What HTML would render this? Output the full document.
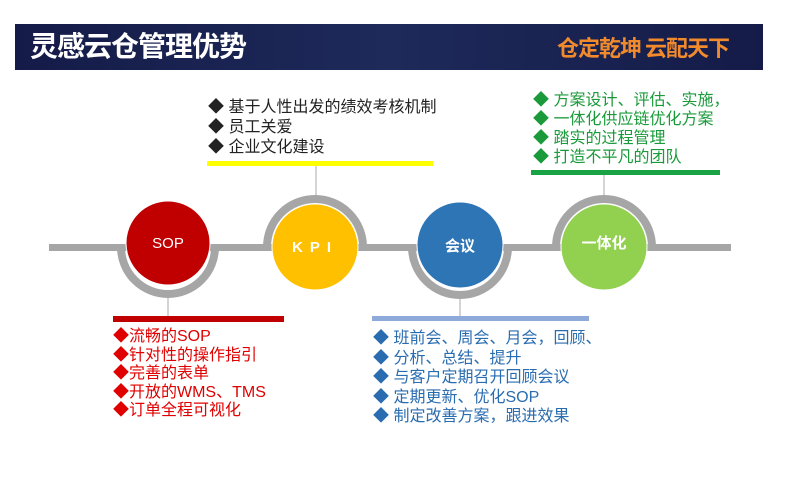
<!DOCTYPE html>
<html><head><meta charset="utf-8"><style>
body{margin:0;width:790px;height:482px;background:#fff;position:relative;overflow:hidden;font-family:"Liberation Sans","Noto Sans CJK SC",sans-serif}
.t{position:absolute;white-space:nowrap;font-size:16px;line-height:19px}
</style></head><body>
<div style="position:absolute;left:15px;top:24px;width:748px;height:46px;background:linear-gradient(90deg,#151b48,#1d2a5a 50%,#151b48)"></div>
<div class="t" style="left:30px;top:29px;font-size:28px;line-height:32px;color:#fff;font-weight:bold;font-family:'Noto Sans CJK SC',sans-serif;letter-spacing:-1px">灵感云仓管理优势</div>
<div class="t" style="left:557px;top:34px;font-size:22px;line-height:26px;color:#f08a2c;font-weight:bold;font-family:'Noto Sans CJK SC',sans-serif;letter-spacing:-1px">仓定乾坤 云配天下</div>
<svg width="790" height="482" style="position:absolute;left:0;top:0">
<rect x="49" y="244" width="682" height="7" fill="#a6a6a6"/>
<line x1="316" y1="165" x2="316" y2="200" stroke="#aaa" stroke-width="1"/>
<line x1="604" y1="174" x2="604" y2="200" stroke="#aaa" stroke-width="1"/>
<line x1="168" y1="290" x2="168" y2="316" stroke="#aaa" stroke-width="1"/>
<line x1="460" y1="294" x2="460" y2="318" stroke="#aaa" stroke-width="1"/>
<path d="M121 247 A47 47 0 0 0 215 247" fill="none" stroke="#a6a6a6" stroke-width="8"/>
<path d="M267 247 A48 48 0 0 1 363 247" fill="none" stroke="#a6a6a6" stroke-width="8"/>
<path d="M412 247 A48 48 0 0 0 508 247" fill="none" stroke="#a6a6a6" stroke-width="8"/>
<path d="M556 247 A48 48 0 0 1 652 247" fill="none" stroke="#a6a6a6" stroke-width="8"/>
<circle cx="168" cy="243" r="42" fill="#c00000" stroke="#fff" stroke-width="1"/>
<circle cx="315" cy="247" r="43" fill="#ffc000" stroke="#fff" stroke-width="1"/>
<circle cx="460" cy="245" r="43" fill="#2e75b6" stroke="#fff" stroke-width="1"/>
<circle cx="604" cy="247" r="43" fill="#92d050" stroke="#fff" stroke-width="1"/>
<text x="168" y="248" fill="#fff" font-size="15" text-anchor="middle" font-family="Liberation Sans">SOP</text>
<text x="315" y="252" fill="#fff" font-size="15" font-weight="bold" text-anchor="middle" letter-spacing="7" font-family="Liberation Sans">KPI</text>
<text x="460" y="251" fill="#fff" font-size="15" font-weight="bold" text-anchor="middle" font-family="Noto Sans CJK SC">会议</text>
<text x="604" y="248" fill="#fff" font-size="15" font-weight="bold" text-anchor="middle" font-family="Noto Sans CJK SC">一体化</text>
<rect x="207" y="161" width="226" height="5" fill="#ffff00"/>
<rect x="531" y="170" width="189" height="5" fill="#1aa344"/>
<rect x="113" y="316" width="171" height="6" fill="#c00000"/>
<rect x="372" y="316" width="217" height="5" fill="#8eaadb"/>
</svg>
<div class="t" style="left:208px;top:98px;color:#222;line-height:20px">◆ 基于人性出发的绩效考核机制<br>◆ 员工关爱<br>◆ 企业文化建设</div>
<div class="t" style="left:533px;top:91px;color:#1a9a3a">◆ 方案设计、评估、实施，<br>◆ 一体化供应链优化方案<br>◆ 踏实的过程管理<br>◆ 打造不平凡的团队</div>
<div class="t" style="left:113px;top:328px;color:#e00000;line-height:18.5px">◆流畅的SOP<br>◆针对性的操作指引<br>◆完善的表单<br>◆开放的WMS、TMS<br>◆订单全程可视化</div>
<div class="t" style="left:373px;top:329px;color:#2a6cb0;line-height:19.5px">◆ 班前会、周会、月会，回顾、<br>◆ 分析、总结、提升<br>◆ 与客户定期召开回顾会议<br>◆ 定期更新、优化SOP<br>◆ 制定改善方案，跟进效果</div>
</body></html>
